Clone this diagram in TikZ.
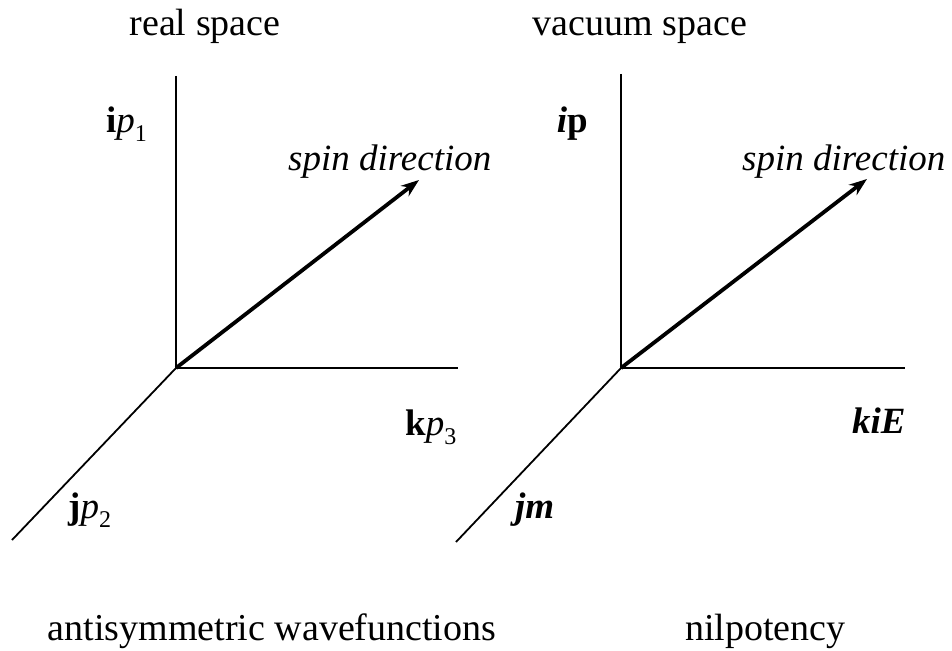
\documentclass[tikz,border=0pt]{standalone}
\usepackage{fontspec}
\setmainfont{Liberation Serif}
\usetikzlibrary{arrows.meta}
\newcommand{\lowsub}[1]{\raisebox{-0.25em}{\fontsize{24}{24}\selectfont #1}}
\begin{document}
\begin{tikzpicture}[
  x=1pt, y=-1pt,
  axis/.style={line width=1.8pt},
  spin/.style={-{Stealth[length=18pt, width=13pt]}, line width=3.8pt},
  lbl/.style={font=\fontsize{37}{42}\selectfont, inner sep=0pt},
  title/.style={font=\fontsize{38}{44}\selectfont, inner sep=0pt, anchor=base}
]
\useasboundingbox (0,0) rectangle (952,650);

% Coordinates
\coordinate (oreal) at (176,368);
\coordinate (topreal) at (176,76);
\coordinate (rightreal) at (458,368);
\coordinate (downreal) at (12,540);
\coordinate (tipreal) at (419,180);
\coordinate (ovac) at (621,368);
\coordinate (topvac) at (621,74);
\coordinate (rightvac) at (905,368);
\coordinate (downvac) at (456,542);
\coordinate (tipvac) at (867,179);

% Nodes
\node[title] (realtitle) at (205,36) {real space};
\node[title] (vactitle) at (640,36) {vacuum space};
\node[lbl, anchor=base east] (ireal) at (147,132) {\textbf{i}\textit{p}\lowsub{1}};
\node[lbl, anchor=base west] (kreal) at (405,435) {\textbf{k}\textit{p}\lowsub{3}};
\node[lbl, anchor=base west] (jreal) at (68,518) {\textbf{j}\textit{p}\lowsub{2}};
\node[lbl, anchor=base west] (spinreal) at (288,170) {\textit{spin direction}};
\node[lbl, anchor=base east] (ivac) at (588,132) {\textbf{\textit{i}p}};
\node[lbl, anchor=base west] (kvac) at (852,433) {\textbf{\textit{kiE}}};
\node[lbl, anchor=base west] (jvac) at (515,518) {\textbf{\textit{jm}}};
\node[lbl, anchor=base west] (spinvac) at (742,170) {\textit{spin direction}};
\node[title] (antisym) at (272,640) {antisymmetric wavefunctions};
\node[title, anchor=base west] (nilpot) at (685,640) {nilpotency};

% Axes
\draw[axis] (topreal) -- (oreal) -- (rightreal);
\draw[axis] (oreal) -- (downreal);
\draw[axis] (topvac) -- (ovac) -- (rightvac);
\draw[axis] (ovac) -- (downvac);

% Arrows
\draw[spin] (oreal) -- (tipreal);
\draw[spin] (ovac) -- (tipvac);

\end{tikzpicture}
\end{document}
